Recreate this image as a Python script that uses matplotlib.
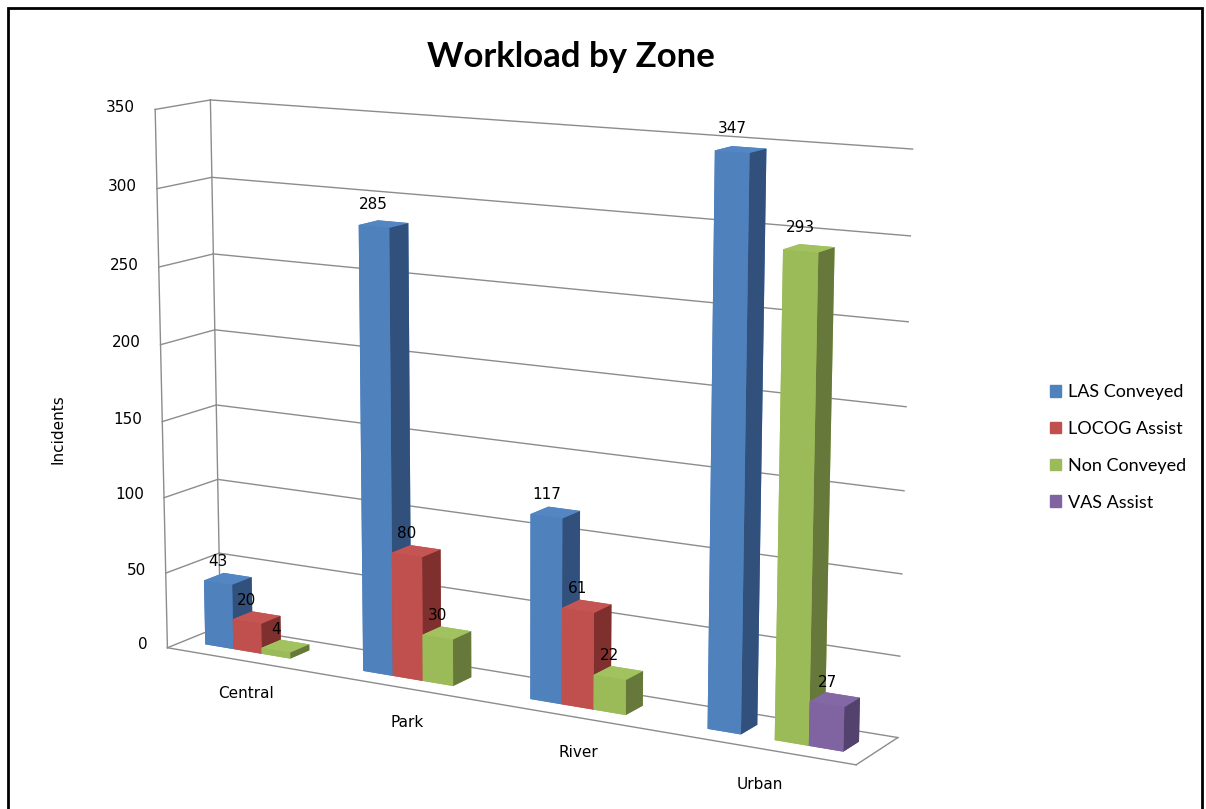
import matplotlib
matplotlib.use('Agg')
import matplotlib.pyplot as plt
import numpy as np
from matplotlib.patches import Rectangle

zones = ['Central', 'Park', 'River', 'Urban']
series = ['LAS Conveyed', 'LOCOG Assist', 'Non Conveyed', 'VAS Assist']
las_conveyed = [43, 285, 117, 347]
locog_assist = [20, 80, 61, None]
non_conveyed = [4, 30, 22, 293]
vas_assist = [None, None, None, 27]
values = [las_conveyed, locog_assist, non_conveyed, vas_assist]
z_ticks = [0, 50, 100, 150, 200, 250, 300, 350]

front_cols = ['#4F81BD', '#C0504D', '#9BBB59', '#8064A2']
top_cols = ['#5386C2', '#C55552', '#A2C260', '#8468A6']
side_cols = ['#31507C', '#7F302E', '#66793A', '#54426E']

plt.rcParams['font.family'] = ['DejaVu Sans']

fig = plt.figure(figsize=(12.06, 8.09), dpi=100)
ax = fig.add_axes([-0.032, -0.067, 0.9, 1.08], projection='3d', proj_type='persp',
                  focal_length=0.7, computed_zorder=False)

pitch = 5.5
margin = 0.75
n_slots = len(series)
xmin, xmax = -margin, (len(zones) - 1) * pitch + n_slots + margin
ymin, ymax = 0.0, 2.7
bar_y, bar_d = 0.85, 1.0
zmax = 350

bars = []
for si, vals in enumerate(values):
    for gi, v in enumerate(vals):
        if v is None:
            continue
        bars.append((gi * pitch + si, si, v))
bars.sort(key=lambda b: b[0])

for k, (x0, si, v) in enumerate(bars):
    # faces: -z, +z, -y, +y, -x, +x
    fc = [front_cols[si], top_cols[si], front_cols[si], front_cols[si], front_cols[si], side_cols[si]]
    ax.bar3d([x0], [bar_y], [0], [1.0], [bar_d], [v], color=fc, shade=False,
             edgecolor='none', linewidth=0, zorder=10 + k)

grid_kw = dict(color='#8c8c8c', lw=1.0, zorder=1)
for z in z_ticks:
    ax.plot([xmin, xmin], [ymin, ymax], [z, z], **grid_kw)
    ax.plot([xmin, xmax], [ymax, ymax], [z, z], **grid_kw)
ax.plot([xmin, xmin], [ymin, ymin], [0, zmax], **grid_kw)
ax.plot([xmin, xmin], [ymax, ymax], [0, zmax], **grid_kw)
ax.plot([xmin, xmax], [ymin, ymin], [0, 0], **grid_kw)
ax.plot([xmax, xmax], [ymin, ymax], [0, 0], **grid_kw)

for x0, si, v in bars:
    ax.text(x0 + 0.5, bar_y, v + 9, str(v), ha='center', va='bottom', fontsize=11, zorder=1000)

for z in z_ticks:
    ax.text(xmin - 0.7, ymin, z, str(z), ha='right', va='center', fontsize=11, zorder=1000)

for gi, name in enumerate(zones):
    ax.text(gi * pitch + 2.0, ymin, -22, name, ha='center', va='center', fontsize=11, zorder=1000)

ax.set_xlim(xmin, xmax)
ax.set_ylim(ymin, ymax)
ax.set_zlim(0, zmax)
ax.set_box_aspect((xmax - xmin, ymax - ymin, 15.8), zoom=1.1)
ax.view_init(elev=12, azim=-60)
ax.set_axis_off()

fig.text(0.473, 0.93, 'Workload by Zone', ha='center', va='center', fontsize=25,
         fontweight='bold', family=['Lato', 'DejaVu Sans'])
fig.text(0.048, 0.47, 'Incidents', rotation=90, ha='center', va='center', fontsize=11)

handles = [Rectangle((0, 0), 1, 1, color=c) for c in front_cols]
fig.legend(handles, series, loc='center left', bbox_to_anchor=(0.857, 0.447), frameon=False,
           prop={'family': ['Lato', 'DejaVu Sans'], 'size': 13},
           handlelength=0.6, handleheight=0.6, labelspacing=1.15, handletextpad=0.4)

fig.patches.append(Rectangle((0.007, -0.01), 0.99, 1.0, transform=fig.transFigure,
                             fill=False, edgecolor='black', lw=2))
fig.savefig('out.png', dpi=100)
